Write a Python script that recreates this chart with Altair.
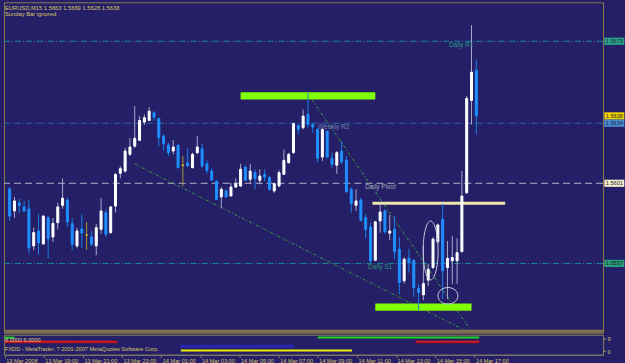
import altair as alt
import pandas as pd

# ------------------------------------------------------------------ data
opens = [1.55979, 1.55858, 1.55902, 1.55880, 1.55869, 1.55666, 1.55748, 1.55677, 1.55821, 1.55715,
         1.55794, 1.55889, 1.55918, 1.55788, 1.55666, 1.55759, 1.55726, 1.55715, 1.55666, 1.55757,
         1.55849, 1.55739, 1.55885, 1.56065, 1.56077, 1.56169, 1.56214, 1.56246, 1.56346, 1.56355,
         1.56397, 1.56366, 1.56269, 1.56220, 1.56187, 1.56220, 1.56109, 1.56121, 1.56095, 1.56178,
         1.56200, 1.56117, 1.56077, 1.56022, 1.55935, 1.55968, 1.55940, 1.55989, 1.55995, 1.56099,
         1.56032, 1.56068, 1.56026, 1.56059, 1.56041, 1.55968, 1.55995, 1.56059, 1.56123, 1.56178,
         1.56328, 1.56315, 1.56388, 1.56333, 1.56306, 1.56154, 1.56297, 1.56147, 1.56109, 1.56187,
         1.56136, 1.55977, 1.55889, 1.55918, 1.55821, 1.55770, 1.55587, 1.55803, 1.55858, 1.55736,
         1.55757, 1.55648, 1.55474, 1.55598, 1.55587, 1.55432, 1.55397, 1.55478, 1.55547, 1.55689,
         1.55812, 1.55547, 1.55584, 1.55584, 1.55635, 1.55958, 1.56465, 1.56630]
highs = [1.55989, 1.55935, 1.55924, 1.55913, 1.55918, 1.55766, 1.55841, 1.55836, 1.55830, 1.55819,
         1.55903, 1.56037, 1.55929, 1.55818, 1.55766, 1.55840, 1.55798, 1.55748, 1.55788, 1.55928,
         1.55867, 1.55885, 1.56065, 1.56105, 1.56205, 1.56258, 1.56434, 1.56379, 1.56388, 1.56428,
         1.56406, 1.56368, 1.56279, 1.56232, 1.56247, 1.56220, 1.56160, 1.56203, 1.56178, 1.56269,
         1.56227, 1.56136, 1.56092, 1.56026, 1.55989, 1.55977, 1.56013, 1.56037, 1.56117, 1.56105,
         1.56117, 1.56087, 1.56087, 1.56087, 1.56050, 1.56013, 1.56081, 1.56196, 1.56178, 1.56342,
         1.56333, 1.56416, 1.56507, 1.56337, 1.56315, 1.56311, 1.56297, 1.56178, 1.56187, 1.56242,
         1.56160, 1.55986, 1.55977, 1.55931, 1.55840, 1.55794, 1.55803, 1.55895, 1.55867, 1.55836,
         1.55830, 1.55715, 1.55602, 1.55648, 1.55593, 1.55456, 1.55666, 1.55566, 1.55715, 1.55788,
         1.55898, 1.55693, 1.55721, 1.55708, 1.56077, 1.56489, 1.56878, 1.56690]
lows = [1.55803, 1.55819, 1.55847, 1.55852, 1.55624, 1.55644, 1.55617, 1.55671, 1.55596, 1.55688,
        1.55757, 1.55870, 1.55770, 1.55642, 1.55653, 1.55657, 1.55644, 1.55666, 1.55615, 1.55733,
        1.55715, 1.55733, 1.55849, 1.56037, 1.56068, 1.56160, 1.56205, 1.56242, 1.56330, 1.56352,
        1.56352, 1.56214, 1.56191, 1.56160, 1.56169, 1.56094, 1.55995, 1.56099, 1.56094, 1.56169,
        1.56095, 1.56062, 1.56022, 1.55918, 1.55873, 1.55931, 1.55940, 1.55986, 1.55989, 1.56022,
        1.56008, 1.55977, 1.56004, 1.56022, 1.55968, 1.55958, 1.55989, 1.56055, 1.56117, 1.56172,
        1.56279, 1.56306, 1.56315, 1.56287, 1.56123, 1.56132, 1.56149, 1.56095, 1.56062, 1.56114,
        1.55958, 1.55849, 1.55858, 1.55799, 1.55708, 1.55574, 1.55584, 1.55739, 1.55733, 1.55697,
        1.55593, 1.55401, 1.55459, 1.55519, 1.55386, 1.55313, 1.55368, 1.55446, 1.55538, 1.55678,
        1.55374, 1.55374, 1.55456, 1.55456, 1.55629, 1.55951, 1.56333, 1.56280]
closes = [1.55830, 1.55913, 1.55889, 1.55858, 1.55655, 1.55739, 1.55682, 1.55830, 1.55706, 1.55790,
          1.55880, 1.55928, 1.55798, 1.55675, 1.55748, 1.55737, 1.55726, 1.55675, 1.55766, 1.55858,
          1.55730, 1.55880, 1.56059, 1.56090, 1.56187, 1.56209, 1.56257, 1.56355, 1.56370, 1.56406,
          1.56373, 1.56260, 1.56227, 1.56178, 1.56209, 1.56095, 1.56109, 1.56105, 1.56169, 1.56209,
          1.56105, 1.56081, 1.56028, 1.55922, 1.55977, 1.55935, 1.55989, 1.56008, 1.56087, 1.56026,
          1.56077, 1.56035, 1.56050, 1.56044, 1.55977, 1.56008, 1.56068, 1.56136, 1.56169, 1.56337,
          1.56306, 1.56379, 1.56333, 1.56319, 1.56147, 1.56306, 1.56154, 1.56114, 1.56178, 1.56127,
          1.55964, 1.55898, 1.55913, 1.55807, 1.55757, 1.55584, 1.55798, 1.55852, 1.55743, 1.55748,
          1.55635, 1.55465, 1.55593, 1.55574, 1.55437, 1.55410, 1.55459, 1.55538, 1.55703, 1.55781,
          1.55529, 1.55598, 1.55602, 1.55629, 1.55940, 1.56476, 1.56620, 1.56380]

time_ticks = [0, 8, 16, 24, 32, 40, 48, 56, 64, 72, 80, 88, 96]
time_labels = ["13 Mar 2008", "13 Mar 19:00", "13 Mar 21:00", "13 Mar 23:00", "14 Mar 01:00",
               "14 Mar 03:00", "14 Mar 05:00", "14 Mar 07:00", "14 Mar 09:00", "14 Mar 11:00",
               "14 Mar 13:00", "14 Mar 15:00", "14 Mar 17:00"]
price_ticks = [1.5525, 1.5540, 1.5555, 1.5570, 1.5585, 1.5600, 1.5615, 1.5630, 1.5645,
               1.5660, 1.5675, 1.5690]

level_names = ["Daily R1", "Weekly R2", "Daily Pivot", "Daily S1"]
level_prices = [1.5679, 1.5634, 1.5601, 1.5557]
level_label_idx = [91.3, 64.1, 73.9, 74.5]

box_names = ["R1", "Bid", "R2", "Pivot", "S1"]
box_prices = [1.5679, 1.5638, 1.5634, 1.5601, 1.5557]

trend_ids = ["a", "a", "b", "b"]
trend_idx = [61.9, 95.9, 26.0, 94.8]
trend_prices = [1.56505, 1.55200, 1.56116, 1.55200]

zone_start = [48.0, 76.0]
zone_end = [76.0, 96.0]
zone_low = [1.5647, 1.5531]
zone_high = [1.5651, 1.5535]

sr_start = [75.4]
sr_end = [103.0]
sr_price = [1.5590]

ellipse_kind = ["tall", "round"]
ellipse_idx = [87.5, 91.1]
ellipse_price = [1.55641, 1.55392]

ind_names = ["green", "green", "red", "red", "darkred", "darkred", "blue", "yellow"]
ind_start = [0, 64, 0, 84, 0, 84, 36, 36]
ind_end = [2, 97, 23, 97, 23, 97, 59, 71]
ind_value = [9.6, 9.6, 6.6, 6.6, 5.8, 5.8, 3.4, 0.4]

header_1 = "EURUSD,M15  1.5663 1.5669 1.5628 1.5638"
header_2 = "Sunday Bar ignored"
legend_1 = "8.0000 6.0000"
legend_2 = "FXDD - MetaTrader, ? 2001-2007 MetaQuotes Software Corp."

# ------------------------------------------------------------------ styles
FONT = "Liberation Sans"
BG = "#241f66"
GOLD = "#d8c466"
AXC = "#7d7868"
W, H_MAIN, H_IND = 600, 331, 20

xs = alt.Scale(domain=[-0.14, 122.3], nice=False, zero=False)
ys = alt.Scale(domain=[1.55189, 1.57004], nice=False, zero=False)
ind_ys = alt.Scale(domain=[-2.64, 11.64], nice=False, zero=False)

label_expr = ""
for t, lab in zip(time_ticks, time_labels):
    label_expr += f"datum.value == {t} ? '{lab}' : "
label_expr += "''"

y_axis_main = alt.Axis(orient="right", values=price_ticks, format=".4f", title=None, grid=False,
                       labelFontSize=5.6, labelColor=GOLD, labelFont=FONT, tickColor=GOLD,
                       tickSize=2, labelPadding=2, domainColor=AXC, labelOverlap=False)
y_axis_ind = alt.Axis(orient="right", values=[0, 9], format="d", title=None, grid=False,
                      labelFontSize=5.6, labelColor=GOLD, labelFont=FONT, tickColor=GOLD,
                      tickSize=2, labelPadding=2, domainColor=AXC, labelOverlap=False)
x_axis = alt.Axis(values=time_ticks, labelExpr=label_expr, labelAlign="left", labelBaseline="top",
                  labelPadding=1, labelOffset=1, tickSize=3, labelFontSize=5.6, labelFont=FONT,
                  labelColor=GOLD, tickColor=AXC, domainColor=AXC, grid=False, title=None,
                  labelFlush=False, labelOverlap=False)

# ------------------------------------------------------------------ frames
candles = pd.DataFrame({"i": list(range(len(opens))), "o": opens, "h": highs, "l": lows, "c": closes})
candles["dir"] = ["up" if c > o else ("down" if c < o else "doji") for o, c in zip(opens, closes)]

levels = pd.DataFrame({"name": level_names, "price": level_prices, "li": level_label_idx})
boxes = pd.DataFrame({"name": box_names, "price": box_prices})
trends = pd.DataFrame({"id": trend_ids, "i": trend_idx, "p": trend_prices})
zones = pd.DataFrame({"a": zone_start, "b": zone_end, "lo": zone_low, "hi": zone_high})
srl = pd.DataFrame({"a": sr_start, "b": sr_end, "p": sr_price})
ells = pd.DataFrame({"kind": ellipse_kind, "i": ellipse_idx, "p": ellipse_price})
ind = pd.DataFrame({"s": ind_names, "a": ind_start, "b": ind_end, "v": ind_value})

dir_dom = ["up", "down", "doji"]
body_scale = alt.Scale(domain=dir_dom, range=["#ffffff", "#1e90ff", "#e0d030"])
wick_scale = alt.Scale(domain=dir_dom, range=["#a8a8cc", "#1a80e8", "#a89a30"])

Xi = alt.X("i:Q", scale=xs, axis=None)

# ------------------------------------------------------------------ main pane
level_lines = alt.Chart(levels).mark_rule(strokeWidth=1).encode(
    y=alt.Y("price:Q", scale=ys, axis=y_axis_main),
    color=alt.Color("name:N", scale=alt.Scale(domain=level_names,
                    range=["#1a8c9a", "#2a6cb4", "#b4b4c8", "#1a8c9a"]), legend=None),
    strokeDash=alt.StrokeDash("name:N", scale=alt.Scale(domain=level_names,
                    range=[[6, 2, 1, 2], [6, 2, 1, 2], [7, 4], [6, 2, 1, 2]]), legend=None),
)

trend_lines = alt.Chart(trends).mark_line(strokeWidth=1, strokeDash=[3, 2, 1, 2], color="#3aa03a",
                                          clip=True).encode(
    x=Xi, y=alt.Y("p:Q", scale=ys, axis=None), detail="id:N")

zone_rects = alt.Chart(zones).mark_rect(color="#80ff00").encode(
    x=alt.X("a:Q", scale=xs, axis=None), x2="b:Q",
    y=alt.Y("lo:Q", scale=ys, axis=None), y2="hi:Q")

sr_line = alt.Chart(srl).mark_rule(strokeWidth=3, color="#eee4b0").encode(
    x=alt.X("a:Q", scale=xs, axis=None), x2="b:Q", y=alt.Y("p:Q", scale=ys, axis=None))

wicks = alt.Chart(candles).mark_rule(strokeWidth=1).encode(
    x=Xi, y=alt.Y("l:Q", scale=ys, axis=None), y2="h:Q",
    color=alt.Color("dir:N", scale=wick_scale, legend=None))

bodies = alt.Chart(candles).mark_bar(size=2, strokeWidth=1).encode(
    x=Xi, y=alt.Y("o:Q", scale=ys, axis=None), y2="c:Q",
    color=alt.Color("dir:N", scale=body_scale, legend=None),
    stroke=alt.Stroke("dir:N", scale=body_scale, legend=None))

level_text = alt.Chart(levels).mark_text(align="left", baseline="top", dy=1, fontSize=6.5,
                                         font=FONT).encode(
    x=alt.X("li:Q", scale=xs, axis=None), y=alt.Y("price:Q", scale=ys, axis=None),
    text="name:N",
    color=alt.Color("name:N", scale=alt.Scale(domain=level_names,
                    range=["#26a08c", "#7484b8", "#a8a8bc", "#2a9474"]), legend=None))

tall_path = "M0,-1A0.254,1,0,1,1,0,1A0.254,1,0,1,1,0,-1Z"
round_path = "M-1,0A1,0.83,0,1,1,1,0A1,0.83,0,1,1,-1,0Z"
ell_tall = alt.Chart(ells).transform_filter(alt.datum.kind == "tall").mark_point(
    shape=tall_path, size=3481, filled=False, opacity=1, strokeWidth=1, color="#c8c8dc").encode(
    x=Xi, y=alt.Y("p:Q", scale=ys, axis=None))
ell_round = alt.Chart(ells).transform_filter(alt.datum.kind == "round").mark_point(
    shape=round_path, size=400, filled=False, opacity=1, strokeWidth=1, color="#c8c8dc").encode(
    x=Xi, y=alt.Y("p:Q", scale=ys, axis=None))

box_path = "M-1,-0.36L1,-0.36L1,0.36L-1,0.36Z"
box_marks = alt.Chart(boxes).mark_point(shape=box_path, size=400, filled=True, opacity=1,
                                        strokeWidth=0).encode(
    x=alt.value(611.3), y=alt.Y("price:Q", scale=ys, axis=None),
    color=alt.Color("name:N", scale=alt.Scale(domain=box_names,
                    range=["#2aa58a", "#f2d400", "#4a8ed0", "#f2eecc", "#2aa07a"]), legend=None))
box_text = alt.Chart(boxes).mark_text(fontSize=5.6, font=FONT, color="#1c1c3c",
                                      align="center", baseline="middle").encode(
    x=alt.value(611.3), y=alt.Y("price:Q", scale=ys, axis=None),
    text=alt.Text("price:Q", format=".4f"))

hdr1 = alt.Chart(pd.DataFrame({"t": [header_1]})).mark_text(
    align="left", baseline="middle", fontSize=5.8, font=FONT, color=GOLD).encode(
    x=alt.value(1), y=alt.value(5.5), text="t:N")
hdr2 = alt.Chart(pd.DataFrame({"t": [header_2]})).mark_text(
    align="left", baseline="middle", fontSize=5.8, font=FONT, color=GOLD).encode(
    x=alt.value(1), y=alt.value(12), text="t:N")

divider = alt.Chart(pd.DataFrame({"d": [0]})).mark_rule(strokeWidth=3, color="#857250").encode(
    x=alt.value(0), x2=alt.value(W), y=alt.value(H_MAIN - 1.5))

main = alt.layer(level_lines, trend_lines, zone_rects, sr_line, wicks, bodies, level_text,
                 ell_tall, ell_round, box_marks, box_text, hdr1, hdr2, divider).properties(
    width=W, height=H_MAIN).resolve_scale(color="independent", stroke="independent",
                                          strokeDash="independent")

# ------------------------------------------------------------------ indicator pane
ind_style = {
    "green": dict(color="#22d622", strokeWidth=2),
    "red": dict(color="#e01818", strokeWidth=2),
    "darkred": dict(color="#b01020", strokeWidth=1, strokeDash=[2, 1]),
    "blue": dict(color="#3030ff", strokeWidth=3, strokeDash=[1, 1]),
    "yellow": dict(color="#f0f000", strokeWidth=2),
}
ind_layers = []
for name, sty in ind_style.items():
    ind_layers.append(
        alt.Chart(ind).transform_filter(alt.datum.s == name).mark_rule(**sty).encode(
            x=alt.X("a:Q", scale=xs, axis=x_axis), x2="b:Q",
            y=alt.Y("v:Q", scale=ind_ys, axis=y_axis_ind)))

leg1 = alt.Chart(pd.DataFrame({"t": [legend_1]})).mark_text(
    align="left", baseline="middle", fontSize=5.6, font=FONT, color="#e0d090").encode(
    x=alt.value(1), y=alt.value(5), text="t:N")
leg2 = alt.Chart(pd.DataFrame({"t": [legend_2]})).mark_text(
    align="left", baseline="middle", fontSize=5.6, font=FONT, color=GOLD).encode(
    x=alt.value(1), y=alt.value(14.7), text="t:N")

indicator = alt.layer(*ind_layers, leg1, leg2).properties(width=W, height=H_IND)

chart = alt.vconcat(main, indicator, spacing=0).resolve_scale(
    color="independent", stroke="independent", strokeDash="independent").properties(
    padding={"left": 2, "top": 1, "right": 0, "bottom": 0},
    background=BG,
).configure(font=FONT).configure_view(stroke="#8a7a50", strokeWidth=1)

chart.save("out.html", embed_options={"renderer": "svg", "actions": False})
